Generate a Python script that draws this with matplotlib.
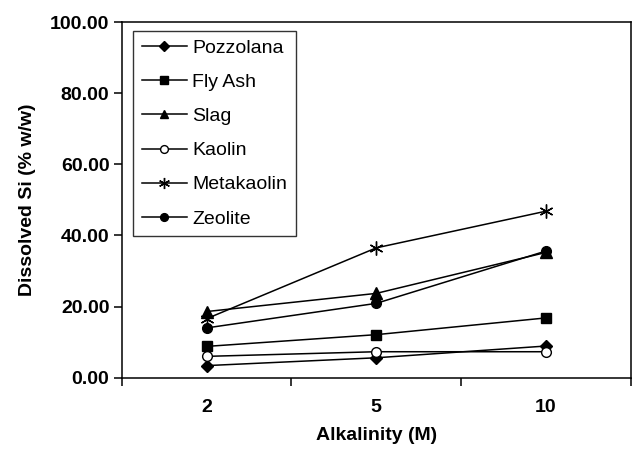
import matplotlib
matplotlib.use('Agg')
import matplotlib.pyplot as plt
from matplotlib.ticker import FixedLocator, FormatStrFormatter

plt.rcParams['font.family'] = ['Liberation Sans', 'DejaVu Sans']

alkalinity = ['2', '5', '10']
pozzolana = [3.4, 5.6, 8.9]
fly_ash = [8.8, 12.1, 16.8]
slag = [18.6, 23.7, 35.2]
kaolin = [6.0, 7.3, 7.3]
metakaolin = [16.6, 36.5, 46.8]
zeolite = [14.0, 20.9, 35.6]

series = [
    ('Pozzolana', pozzolana, dict(marker='D', markersize=6, mfc='black')),
    ('Fly Ash', fly_ash, dict(marker='s', markersize=7, mfc='black')),
    ('Slag', slag, dict(marker='^', markersize=8, mfc='black')),
    ('Kaolin', kaolin, dict(marker='o', markersize=7, mfc='white')),
    ('Metakaolin', metakaolin, dict(marker=(6, 2, 0), markersize=10, mew=1.0)),
    ('Zeolite', zeolite, dict(marker='o', markersize=7, mfc='black')),
]

fig = plt.figure(figsize=(6.34, 4.49), dpi=100)
ax = fig.add_axes([0.1924, 0.1588, 0.8021, 0.7922])

x = list(range(len(alkalinity)))
for name, vals, style in series:
    ax.plot(x, vals, color='black', mec='black', linewidth=1.1, label=name, **style)

ax.set_xlim(-0.5, len(alkalinity) - 0.5)
ax.set_ylim(0, 100)
ax.set_yticks([0, 20, 40, 60, 80, 100])
ax.yaxis.set_major_formatter(FormatStrFormatter('%.2f'))

ax.set_xticks(x)
ax.set_xticklabels(alkalinity)
ax.xaxis.set_minor_locator(FixedLocator([-0.5, 0.5, 1.5, 2.5]))
ax.tick_params(axis='x', which='major', length=0, pad=15)
ax.tick_params(axis='x', which='minor', length=6, width=1.1, direction='out')
ax.tick_params(axis='y', length=6, width=1.1, direction='out', pad=3)

for lab in ax.get_xticklabels() + ax.get_yticklabels():
    lab.set_fontsize(14)
    lab.set_fontweight('bold')

for sp in ax.spines.values():
    sp.set_linewidth(1.1)

ax.set_xlabel('Alkalinity (M)', fontsize=14, fontweight='bold', labelpad=8)
ax.set_ylabel('Dissolved Si (% w/w)', fontsize=14, fontweight='bold', labelpad=10)

leg = ax.legend(loc='upper left', bbox_to_anchor=(0.022, 0.976), borderaxespad=0,
                fontsize=14, frameon=True, fancybox=False, edgecolor='black',
                handlelength=2.3, labelspacing=0.85, handletextpad=0.3,
                borderpad=0.45, markerscale=0.8)
leg.get_frame().set_linewidth(1.0)

plt.savefig('out.png', dpi=100)
